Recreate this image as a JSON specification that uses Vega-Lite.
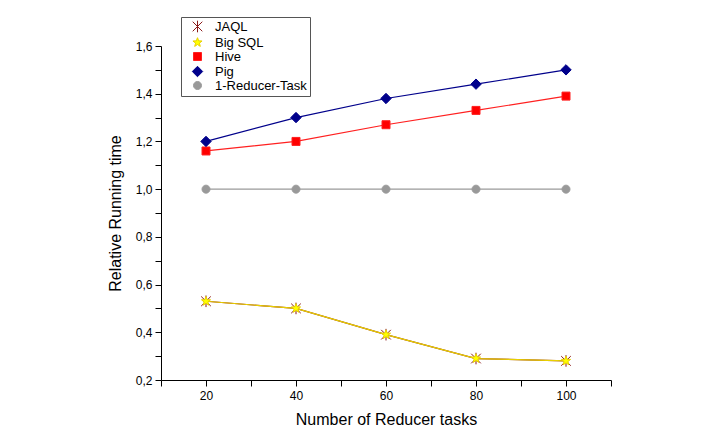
{
  "$schema": "https://vega.github.io/schema/vega-lite/v6.json",
  "width": 450,
  "height": 334,
  "autosize": {"type": "none"},
  "padding": {"left": 161, "top": 46, "right": 106, "bottom": 58},
  "background": "white",
  "config": {
    "view": {"stroke": null},
    "font": "Liberation Sans",
    "axis": {
      "domainColor": "#000000",
      "tickColor": "#000000",
      "labelColor": "#000000",
      "titleColor": "#000000",
      "labelFont": "Liberation Sans",
      "titleFont": "Liberation Sans",
      "labelFontSize": 12,
      "titleFontSize": 16,
      "titleFontWeight": "normal",
      "grid": false,
      "tickSize": 6,
      "labelOverlap": false
    },
    "legend": {
      "orient": "none",
      "legendX": 20,
      "legendY": -29,
      "padding": 3,
      "strokeColor": "#555555",
      "fillColor": "white",
      "labelFont": "Liberation Sans",
      "labelFontSize": 13,
      "labelColor": "#000000",
      "symbolSize": 64,
      "symbolOffset": 7,
      "labelOffset": 11,
      "rowPadding": 0,
      "symbolStrokeWidth": 1
    }
  },
  "data": {
    "values": [
      {"series": "JAQL", "tasks": 20, "time": 0.53},
      {"series": "JAQL", "tasks": 40, "time": 0.50},
      {"series": "JAQL", "tasks": 60, "time": 0.39},
      {"series": "JAQL", "tasks": 80, "time": 0.29},
      {"series": "JAQL", "tasks": 100, "time": 0.28},
      {"series": "Big SQL", "tasks": 20, "time": 0.53},
      {"series": "Big SQL", "tasks": 40, "time": 0.50},
      {"series": "Big SQL", "tasks": 60, "time": 0.39},
      {"series": "Big SQL", "tasks": 80, "time": 0.29},
      {"series": "Big SQL", "tasks": 100, "time": 0.28},
      {"series": "Hive", "tasks": 20, "time": 1.16},
      {"series": "Hive", "tasks": 40, "time": 1.20},
      {"series": "Hive", "tasks": 60, "time": 1.27},
      {"series": "Hive", "tasks": 80, "time": 1.33},
      {"series": "Hive", "tasks": 100, "time": 1.39},
      {"series": "Pig", "tasks": 20, "time": 1.20},
      {"series": "Pig", "tasks": 40, "time": 1.30},
      {"series": "Pig", "tasks": 60, "time": 1.38},
      {"series": "Pig", "tasks": 80, "time": 1.44},
      {"series": "Pig", "tasks": 100, "time": 1.50},
      {"series": "1-Reducer-Task", "tasks": 20, "time": 1.0},
      {"series": "1-Reducer-Task", "tasks": 40, "time": 1.0},
      {"series": "1-Reducer-Task", "tasks": 60, "time": 1.0},
      {"series": "1-Reducer-Task", "tasks": 80, "time": 1.0},
      {"series": "1-Reducer-Task", "tasks": 100, "time": 1.0}
    ]
  },
  "encoding": {
    "x": {
      "field": "tasks",
      "type": "quantitative",
      "scale": {"domain": [10, 110], "nice": false, "zero": false},
      "axis": {
        "title": "Number of Reducer tasks",
        "values": [10, 20, 30, 40, 50, 60, 70, 80, 90, 100, 110],
        "labelExpr": "datum.value % 20 == 0 ? datum.label : ''",
        "labelPadding": 4,
        "titlePadding": 10,
        "encode": {"ticks": {"update": {"y2": {"signal": "datum.value % 20 == 0 ? 6 : 3"}}}}
      }
    },
    "y": {
      "field": "time",
      "type": "quantitative",
      "scale": {"domain": [0.2, 1.6], "nice": false, "zero": false},
      "axis": {
        "title": "Relative Running time",
        "values": [0.2, 0.3, 0.4, 0.5, 0.6, 0.7, 0.8, 0.9, 1.0, 1.1, 1.2, 1.3, 1.4, 1.5, 1.6],
        "labelExpr": "round(datum.value*10) % 2 == 0 ? replace(format(datum.value, '.1f'), '.', ',') : ''",
        "labelPadding": 3,
        "titlePadding": 12,
        "encode": {"ticks": {"update": {"x2": {"signal": "round(datum.value*10) % 2 == 0 ? -6 : -3"}}}}
      }
    }
  },
  "layer": [
    {
      "mark": {"type": "line", "strokeWidth": 1.2},
      "encoding": {
        "stroke": {
          "field": "series",
          "type": "nominal",
          "scale": {
            "domain": ["JAQL", "Big SQL", "Hive", "Pig", "1-Reducer-Task"],
            "range": ["#8B1A1A", "#E8D000", "#FF2020", "#00008B", "#9A9A9A"]
          },
          "legend": {"title": null}
        }
      }
    },
    {
      "mark": {"type": "point", "filled": true, "size": 64, "strokeWidth": 1, "opacity": 1},
      "encoding": {
        "shape": {
          "field": "series",
          "type": "nominal",
          "scale": {
            "domain": ["JAQL", "Big SQL", "Hive", "Pig", "1-Reducer-Task"],
            "range": [
              "M-1.2,-1.2L1.2,1.2M-1.2,1.2L1.2,-1.2M0,-1.45V1.45",
              "M0,-1.2L0.3,-0.41L1.14,-0.37L0.48,0.16L0.7,0.97L0,0.5L-0.7,0.97L-0.48,0.16L-1.14,-0.37L-0.3,-0.41Z",
              "M-1,-1H1V1H-1Z",
              "M0,-1.3L1.3,0L0,1.3L-1.3,0Z",
              "M-1,0A1,1,0,1,0,1,0A1,1,0,1,0,-1,0Z"
            ]
          },
          "legend": {"title": null}
        },
        "fill": {
          "field": "series",
          "type": "nominal",
          "scale": {
            "domain": ["JAQL", "Big SQL", "Hive", "Pig", "1-Reducer-Task"],
            "range": ["#8B1A1A", "#FFFF00", "#FF0000", "#00008B", "#999999"]
          },
          "legend": {"title": null}
        },
        "stroke": {
          "field": "series",
          "type": "nominal",
          "legend": {"title": null}
        }
      }
    }
  ]
}
